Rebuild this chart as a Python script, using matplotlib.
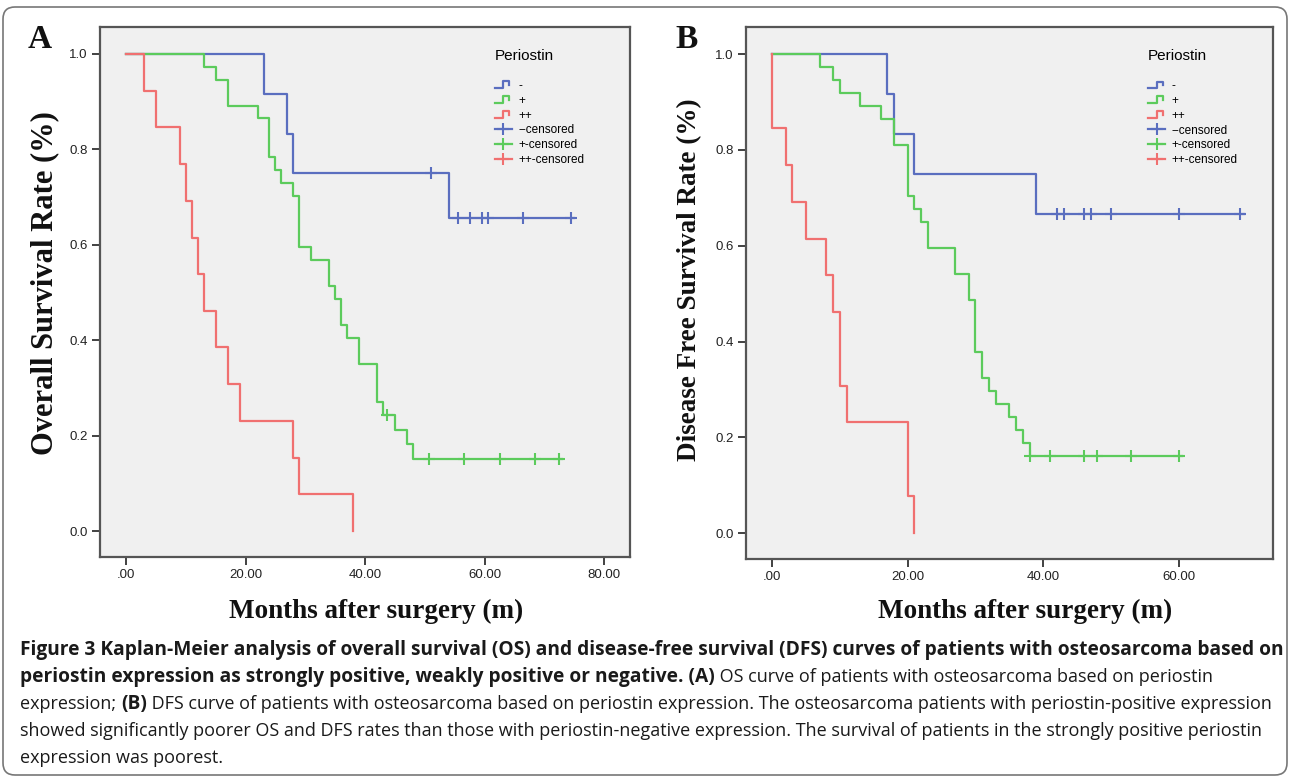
import matplotlib
matplotlib.use('Agg')
import matplotlib.pyplot as plt
from matplotlib.lines import Line2D
from matplotlib.legend_handler import HandlerBase
from matplotlib.patches import FancyBboxPatch

# ---- data (months, survival fraction) ----
# (A) overall survival
os_neg_t = [0, 23, 27, 28, 54, 75]
os_neg_s = [1.0, 0.917, 0.833, 0.75, 0.656, 0.656]
os_neg_cens_t = [51, 55.6, 57.5, 59.5, 60.5, 66.4, 74.4]
os_neg_cens_s = [0.75, 0.656, 0.656, 0.656, 0.656, 0.656, 0.656]

os_pos_t = [0, 13, 15, 17, 22, 24, 25, 26, 28, 29, 31, 34, 35, 36, 37, 39, 42, 43, 45, 47, 48, 73]
os_pos_s = [1.0, 0.973, 0.946, 0.892, 0.865, 0.784, 0.757, 0.730, 0.703, 0.595, 0.568,
            0.514, 0.486, 0.432, 0.405, 0.351, 0.270, 0.243, 0.213, 0.182, 0.152, 0.152]
os_pos_cens_t = [43.7, 50.7, 56.6, 62.5, 68.4, 72.5]
os_pos_cens_s = [0.243, 0.152, 0.152, 0.152, 0.152, 0.152]

os_strong_t = [0, 3, 5, 9, 10, 11, 12, 13, 15, 17, 19, 28, 29, 38]
os_strong_s = [1.0, 0.923, 0.846, 0.769, 0.692, 0.615, 0.538, 0.462, 0.385, 0.308, 0.231, 0.154, 0.077, 0.0]

# (B) disease free survival
dfs_neg_t = [0, 17, 18, 21, 39, 69.6]
dfs_neg_s = [1.0, 0.917, 0.833, 0.75, 0.667, 0.667]
dfs_neg_cens_t = [42, 43, 46, 47, 50, 60, 69]
dfs_neg_cens_s = [0.667, 0.667, 0.667, 0.667, 0.667, 0.667, 0.667]

dfs_pos_t = [0, 7, 9, 10, 13, 16, 18, 20, 21, 22, 23, 27, 29, 30, 31, 32, 33, 35, 36, 37, 38, 60.5]
dfs_pos_s = [1.0, 0.973, 0.946, 0.919, 0.892, 0.865, 0.811, 0.703, 0.676, 0.649, 0.595, 0.541,
             0.486, 0.378, 0.324, 0.297, 0.270, 0.243, 0.216, 0.189, 0.162, 0.162]
dfs_pos_cens_t = [38, 41, 46, 48, 53, 60]
dfs_pos_cens_s = [0.162, 0.162, 0.162, 0.162, 0.162, 0.162]

dfs_strong_t = [0, 0, 2, 3, 5, 8, 9, 10, 11, 20, 21]
dfs_strong_s = [1.0, 0.846, 0.769, 0.692, 0.615, 0.538, 0.462, 0.308, 0.231, 0.077, 0.0]

group_labels = ['-', '+', '++']
cens_labels = ['--censored', '+-censored', '++-censored']
colors = ['#5a6ebf', '#5ccb5c', '#f07070']

y_ticks = [0.0, 0.2, 0.4, 0.6, 0.8, 1.0]
a_x_ticks = [0, 20, 40, 60, 80]
b_x_ticks = [0, 20, 40, 60]

caption_bold1 = ("Figure 3 Kaplan-Meier analysis of overall survival (OS) and disease-free survival (DFS) "
                 "curves of patients with osteosarcoma based on")
caption_lines = [
    [(caption_bold1, 'bold')],
    [("periostin expression as strongly positive, weakly positive or negative. (A)", 'bold'),
     (" OS curve of patients with osteosarcoma based on periostin", 'normal')],
    [("expression; ", 'normal'), ("(B)", 'bold'),
     (" DFS curve of patients with osteosarcoma based on periostin expression. The osteosarcoma "
      "patients with periostin-positive expression", 'normal')],
    [("showed significantly poorer OS and DFS rates than those with periostin-negative expression. "
      "The survival of patients in the strongly positive periostin", 'normal')],
    [("expression was poorest.", 'normal')],
]


class StepHandler(HandlerBase):
    # little SPSS style step icon for the legend
    def create_artists(self, legend, orig_handle, xdescent, ydescent, width, height, fontsize, trans):
        x0, y0 = -xdescent, -ydescent
        xs = [x0, x0 + 0.5 * width, x0 + 0.5 * width, x0 + 0.85 * width, x0 + 0.85 * width]
        ys = [y0 + 0.1 * height, y0 + 0.1 * height, y0 + 0.9 * height, y0 + 0.9 * height, y0 + 0.45 * height]
        ln = Line2D(xs, ys, color=orig_handle.get_color(), lw=orig_handle.get_linewidth())
        ln.set_transform(trans)
        return [ln]


W, H = 1290, 778
fig = plt.figure(figsize=(W / 100, H / 100), dpi=100)
fig.patch.set_facecolor('white')


def km_panel(rect, curves, xlim, xticks, legend_x):
    ax = fig.add_axes(rect)
    ax.set_facecolor('#f0f0f0')
    handles = []
    chandles = []
    for (t, s, ct, cs), col in zip(curves, colors):
        ln, = ax.step(t, s, where='post', color=col, lw=1.6)
        ax.plot(ct, cs, ls='none', marker='+', ms=8, mew=1.5, color=col)
        handles.append(ln)
        chandles.append(Line2D([], [], color=col, lw=1.6, marker='+', ms=8, mew=1.5))
    ax.set_xlim(*xlim)
    ax.set_ylim(-0.054, 1.0565)
    ax.set_xticks(xticks)
    ax.set_xticklabels(['.00' if v == 0 else f'{v:.2f}' for v in xticks])
    ax.set_yticks(y_ticks)
    ax.set_yticklabels([f'{v:.1f}' for v in y_ticks])
    ax.tick_params(direction='out', length=6, width=1.3, color='#333333', pad=3,
                   labelsize=9.5, labelcolor='#222222')
    for lab in ax.get_xticklabels() + ax.get_yticklabels():
        lab.set_family('Liberation Sans')
    for sp in ax.spines.values():
        sp.set_color('#555555')
        sp.set_linewidth(1.6)
    hmap = {h: StepHandler() for h in handles}
    leg = ax.legend(handles + chandles, group_labels + cens_labels, title='Periostin',
                    loc='upper left', bbox_to_anchor=(legend_x, 0.958), frameon=False,
                    prop={'family': 'Liberation Sans', 'size': 8.5}, handlelength=1.45,
                    handletextpad=0.55, labelspacing=0.24, borderpad=0, borderaxespad=0,
                    alignment='left', handler_map=hmap)
    leg.get_title().set_fontsize(11)
    leg.get_title().set_family('Liberation Sans')
    leg._legend_box.sep = 12
    return ax


ax_a = km_panel([100 / W, 1 - 557 / H, 530 / W, 530 / H],
                [(os_neg_t, os_neg_s, os_neg_cens_t, os_neg_cens_s),
                 (os_pos_t, os_pos_s, os_pos_cens_t, os_pos_cens_s),
                 (os_strong_t, os_strong_s, [], [])],
                (-4.35, 84.3), a_x_ticks, 0.745)
ax_b = km_panel([746 / W, 1 - 559 / H, 527 / W, 532 / H],
                [(dfs_neg_t, dfs_neg_s, dfs_neg_cens_t, dfs_neg_cens_s),
                 (dfs_pos_t, dfs_pos_s, dfs_pos_cens_t, dfs_pos_cens_s),
                 (dfs_strong_t, dfs_strong_s, [], [])],
                (-3.86, 73.9), b_x_ticks, 0.763)

serif = {'family': 'Liberation Serif', 'weight': 'bold', 'color': '#111111'}
fig.text(40 / W, 1 - 40 / H, 'A', fontsize=24, ha='center', va='center', **serif)
fig.text(687 / W, 1 - 40 / H, 'B', fontsize=24, ha='center', va='center', **serif)
fig.text(45 / W, 1 - 283 / H, 'Overall Survival Rate (%)', fontsize=22, rotation=90,
         ha='center', va='center', **serif)
fig.text(690 / W, 1 - 280 / H, 'Disease Free Survival Rate (%)', fontsize=19.5, rotation=90,
         ha='center', va='center', **serif)
fig.text(376 / W, 1 - 611 / H, 'Months after surgery (m)', fontsize=19.5, ha='center', va='center', **serif)
fig.text(1025 / W, 1 - 611 / H, 'Months after surgery (m)', fontsize=19.5, ha='center', va='center', **serif)

# caption: size the bold and regular faces so the long lines fill the column
renderer = fig.canvas.get_renderer()
cap_font = 'Open Sans'


def text_width(s, weight, size):
    t = fig.text(0, 0, s, fontsize=size, family=cap_font, weight=weight)
    w = t.get_window_extent(renderer).width
    t.remove()
    return w


bold_size = 10 * 1262 / text_width(caption_bold1, 'bold', 10)
reg_size = 10 * 1243 / text_width(caption_lines[3][0][0], 'normal', 10)
sizes = {'bold': bold_size, 'normal': reg_size}

line_y = [650, 677, 704, 731, 758]
for segs, yp in zip(caption_lines, line_y):
    x = 20
    for s, weight in segs:
        t = fig.text(x / W, 1 - yp / H, s, fontsize=sizes[weight], family=cap_font, weight=weight,
                     color='#1a1a1a', ha='left', va='center')
        x += t.get_window_extent(renderer).width

# rounded frame around the whole figure
frame = FancyBboxPatch((0.03, 0.03), W / 100 - 0.06, H / 100 - 0.1,
                       boxstyle='round,pad=0,rounding_size=0.12', transform=fig.dpi_scale_trans,
                       fill=False, edgecolor='#777777', lw=1.2)
fig.patches.append(frame)

fig.savefig('out.png', dpi=100)
